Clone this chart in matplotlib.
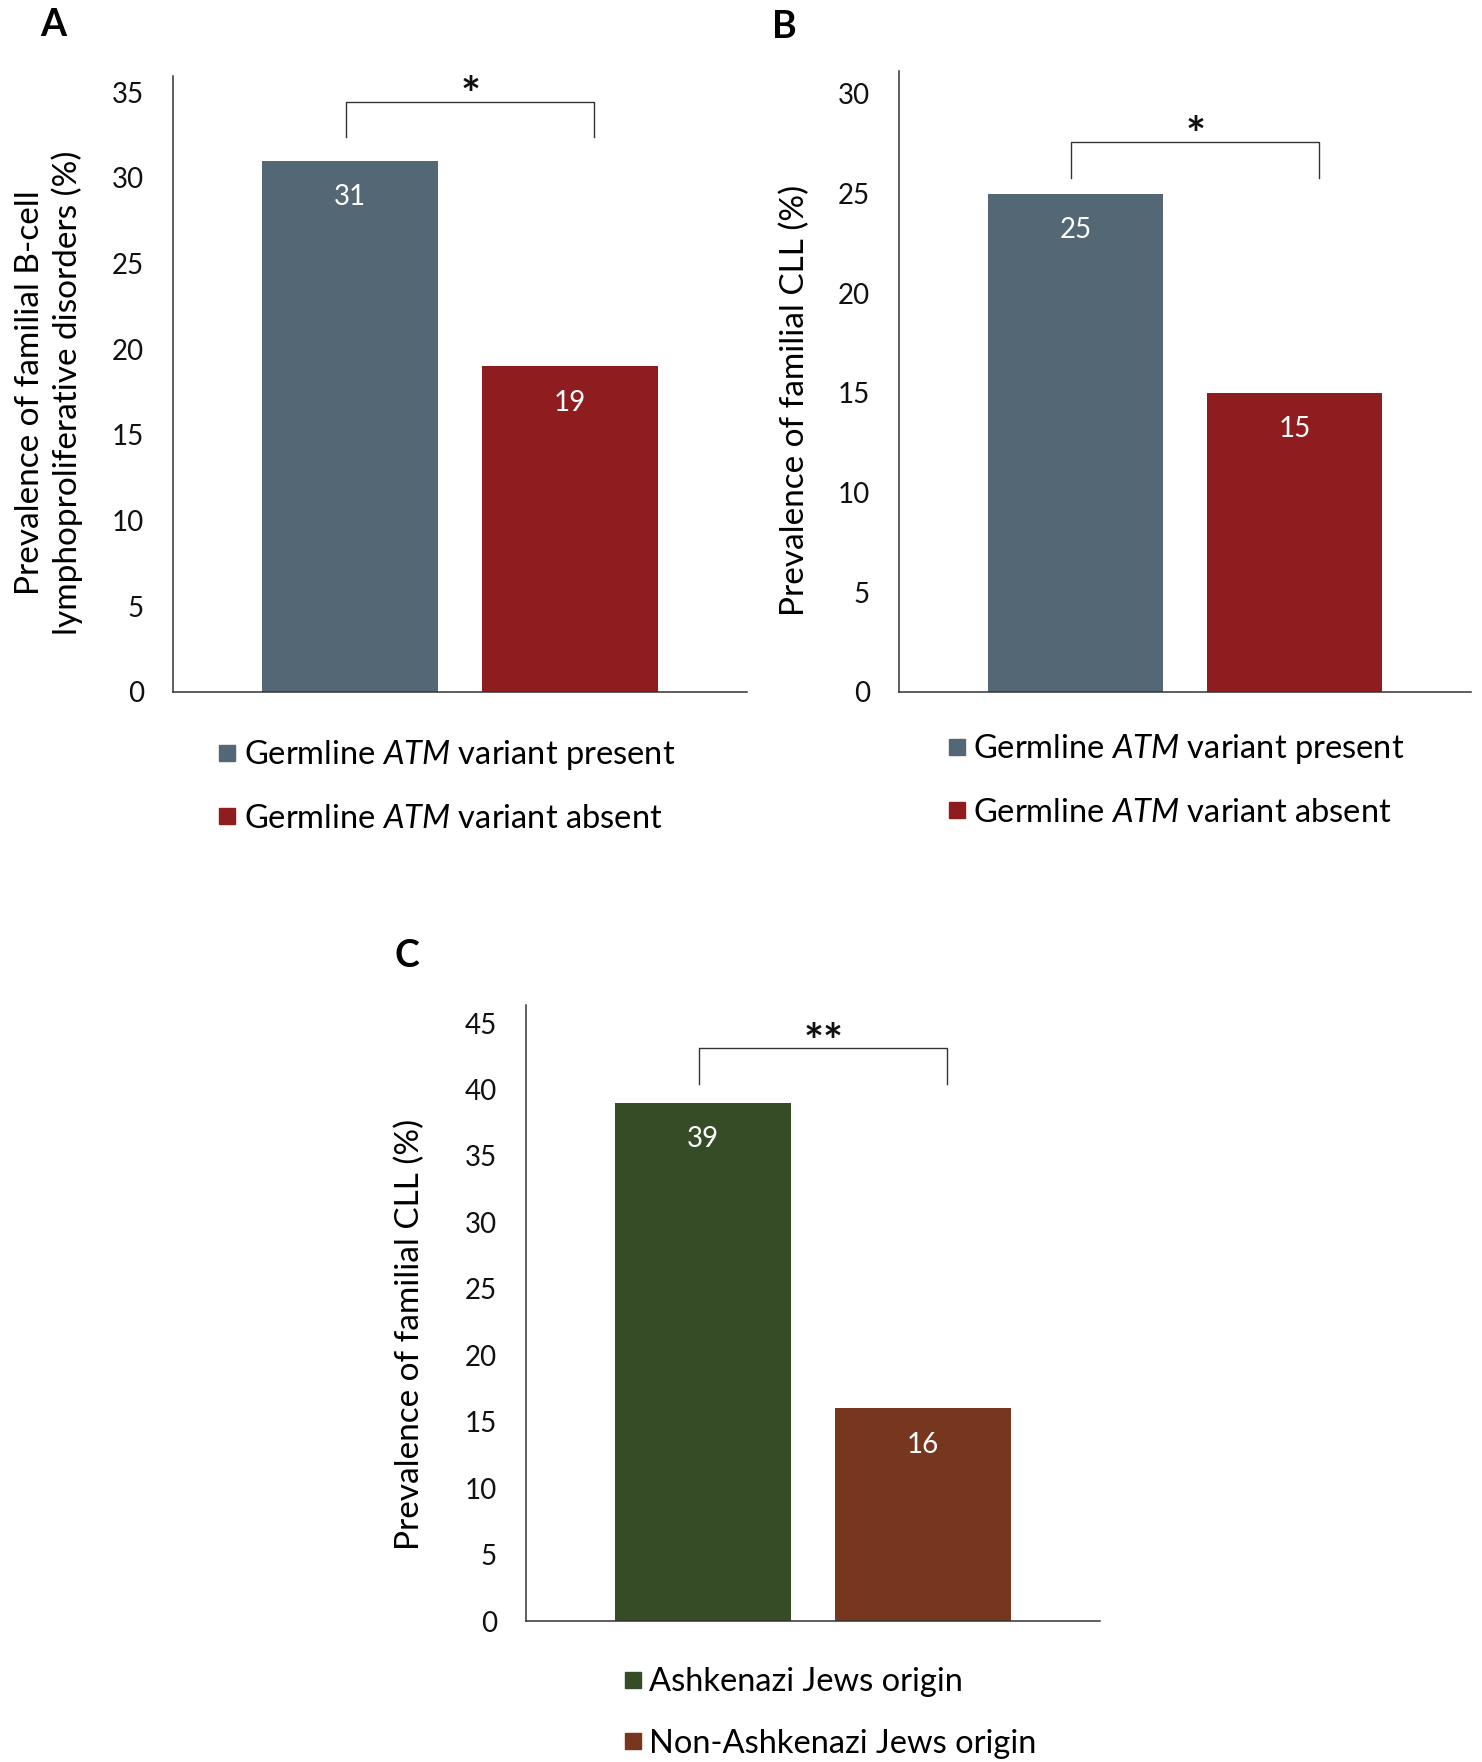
import matplotlib
matplotlib.use('Agg')
import matplotlib.pyplot as plt
from matplotlib.lines import Line2D

plt.rcParams['font.family'] = 'Lato'
plt.rcParams['mathtext.fontset'] = 'custom'
plt.rcParams['mathtext.it'] = 'Lato:italic'
plt.rcParams['mathtext.rm'] = 'Lato'

# A and B: germline ATM status
atm_labels = ['Germline $\\mathit{ATM}$ variant present',
              'Germline $\\mathit{ATM}$ variant absent']
atm_colors = ['#536774', '#8f1d20']
bcell_prev = [31, 19]
cll_atm_prev = [25, 15]

# C: ethnic origin
origin_labels = ['Ashkenazi Jews origin', 'Non-Ashkenazi Jews origin']
origin_colors = ['#354c26', '#77361e']
cll_origin_prev = [39, 16]

W, H = 1482, 1762
fig = plt.figure(figsize=(W / 100, H / 100), dpi=100)

xpos = [-0.5, 0.5]
line_col = '#333333'


def panel(rect, values, colors, labels, ymax, ytop, bracket, stars, leg_xy):
    ax = fig.add_axes(rect)
    ax.bar(xpos, values, width=0.8, color=colors)
    ax.set_xlim(-1.305, 1.305)
    ax.set_ylim(0, ytop)
    ax.set_yticks(range(0, ymax + 1, 5))
    ax.set_xticks([])
    ax.tick_params(axis='y', length=0, pad=21, labelsize=20, labelcolor='#111111')
    for s in ['top', 'right']:
        ax.spines[s].set_visible(False)
    for s in ['left', 'bottom']:
        ax.spines[s].set_color(line_col)
        ax.spines[s].set_linewidth(1.1)
    for x, v in zip(xpos, values):
        ax.annotate(str(v), (x, v), xytext=(0, -26), textcoords='offset points',
                    ha='center', va='center', color='white', fontsize=20)
    # significance bracket
    b0, b1 = bracket
    ax.plot([-0.52, -0.52, 0.61, 0.61], [b1, b0, b0, b1], color=line_col, lw=1.0,
            clip_on=False)
    ax.annotate(stars, (0.05, b0), xytext=(0, -7), textcoords='offset points',
                ha='center', va='baseline', fontsize=34, fontweight='bold', color='#111111')
    handles = [Line2D([], [], marker='s', linestyle='none', color=c, markersize=11)
               for c in colors]
    fig.legend(handles, labels, loc='center left', bbox_to_anchor=leg_xy,
               frameon=False, fontsize=23.5, handlelength=0.6, handletextpad=0.2,
               labelspacing=0.95, borderpad=0, borderaxespad=0)
    return ax


panel([173 / W, 1 - 692 / H, 574 / W, 616 / H], bcell_prev, atm_colors, atm_labels,
      35, 35.95, (34.45, 32.4), '*', (217.5 / W, 1 - 786 / H))
panel([899 / W, 1 - 692 / H, 572 / W, 621 / H], cll_atm_prev, atm_colors, atm_labels,
      30, 31.15, (27.6, 25.8), '*', (947 / W, 1 - 780 / H))
panel([526 / W, 1 - 1621 / H, 574 / W, 616.5 / H], cll_origin_prev, origin_colors,
      origin_labels, 45, 46.4, (43.1, 40.4), '**', (623 / W, 1 - 1713 / H))

# axis titles
fig.text(49 / W, 1 - 393 / H,
         'Prevalence of familial B-cell\nlymphoproliferative disorders (%)',
         rotation=90, ha='center', va='center', fontsize=24, linespacing=1.25)
fig.text(795 / W, 1 - 400 / H, 'Prevalence of familial CLL (%)',
         rotation=90, ha='center', va='center', fontsize=24)
fig.text(410 / W, 1 - 1334 / H, 'Prevalence of familial CLL (%)',
         rotation=90, ha='center', va='center', fontsize=24)

# panel letters
for letter, x, y in [('A', 53, 25), ('B', 784, 27), ('C', 407, 956)]:
    fig.text(x / W, 1 - y / H, letter, ha='center', va='center',
             fontsize=27, fontweight='bold')

fig.savefig('out.png', dpi=100)
